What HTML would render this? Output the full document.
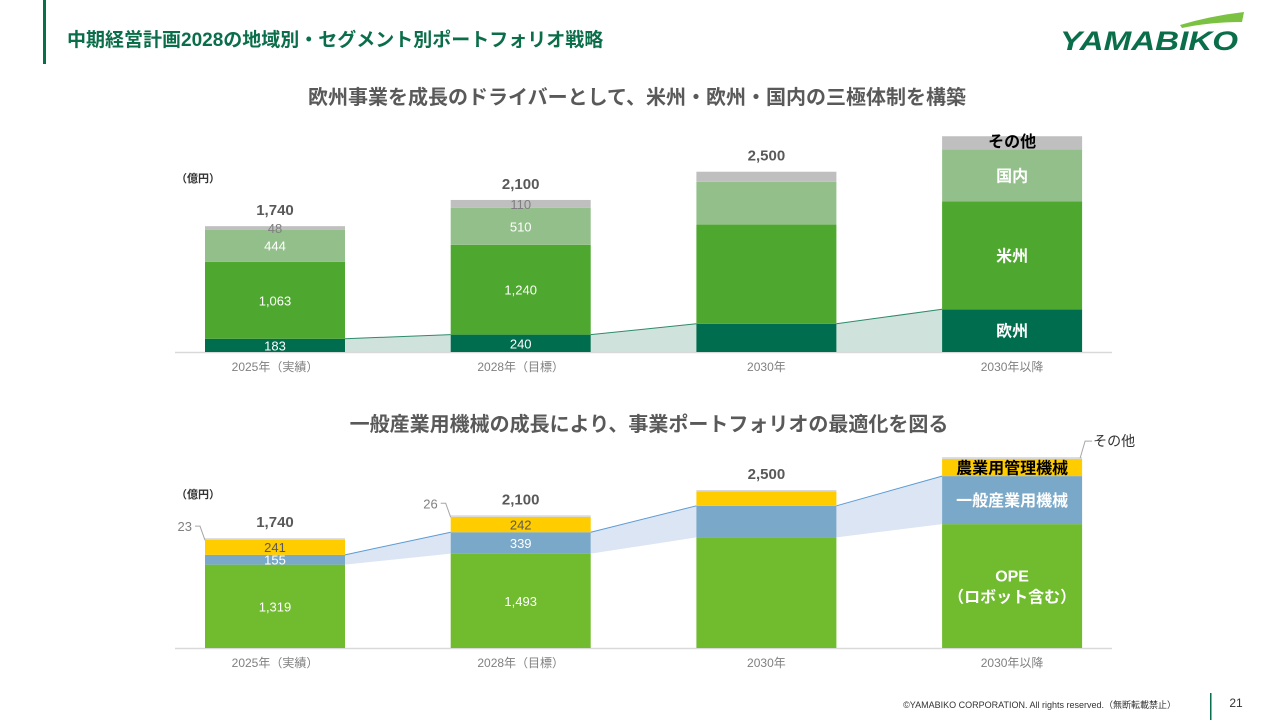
<!DOCTYPE html>
<html><head><meta charset="utf-8">
<style>
html,body{margin:0;padding:0;background:#fff;}
body{width:1280px;height:720px;overflow:hidden;position:relative;font-family:"Liberation Sans","Noto Sans CJK JP",sans-serif;}
svg text{font-family:"Liberation Sans","Noto Sans CJK JP",sans-serif;}
</style></head>
<body>
<svg id="page" width="1280" height="720" viewBox="0 0 1280 720">
  <rect x="43" y="0" width="3" height="64" fill="#0b6e4a"/>
  <text x="67" y="46" font-size="19" font-weight="bold" fill="#0b6e4a">中期経営計画2028の地域別・セグメント別ポートフォリオ戦略</text>
  <g>
    <path d="M1180 25 Q1210 16 1244 12 L1242 22 Q1210 22 1182 28 Z" fill="#7cc242"/>
    <text x="1060" y="50" font-size="27" font-weight="bold" font-style="italic" fill="#0b6e4a" textLength="178" lengthAdjust="spacingAndGlyphs">YAMABIKO</text>
  </g>
  <text x="637" y="104" text-anchor="middle" font-size="20" font-weight="bold" fill="#595959">欧州事業を成長のドライバーとして、米州・欧州・国内の三極体制を構築</text>
  <text x="649" y="431" text-anchor="middle" font-size="20" font-weight="bold" fill="#595959">一般産業用機械の成長により、事業ポートフォリオの最適化を図る</text>
  <text x="176" y="182" font-size="11" font-weight="bold" fill="#333">（億円）</text>
  <text x="176" y="498" font-size="11" font-weight="bold" fill="#333">（億円）</text>
  <g id="topChart"></g>
  <g id="botChart"></g>
  <text x="1176" y="708" text-anchor="end" font-size="9" fill="#333">©YAMABIKO CORPORATION. All rights reserved.（無断転載禁止）</text>
  <rect x="1210" y="693" width="1.5" height="27" fill="#0b6e4a"/>
  <text x="1236" y="707" text-anchor="middle" font-size="12" fill="#333">21</text>
</svg>
<script>
const categories = ["2025年（実績）","2028年（目標）","2030年","2030年以降"];
const regionEurope = [183,240,390,590];
const regionAmericas = [1063,1240,1370,1490];
const regionJapan = [444,510,590,720];
const regionOther = [48,110,140,180];
const regionTotals = ["1,740","2,100","2,500",""];
const segOPE = [1319,1493,1750,1960];
const segGeneral = [155,339,500,760];
const segAgri = [241,242,230,270];
const segOther = [23,26,20,30];
const segTotals = ["1,740","2,100","2,500",""];

const NS="http://www.w3.org/2000/svg";
function mk(parent,tag,attrs,text){const e=document.createElementNS(NS,tag);for(const k in attrs)e.setAttribute(k,attrs[k]);if(text!==undefined)e.textContent=text;parent.appendChild(e);return e;}
const barX = i => 205 + i*245.7;
const BW = 140;

function drawChart(g, base, scale, series, colors, names, labelCols, totals, bandIdx, bandFill, lineCol, showVals, lastLabels, lastLabelCols){
  const y = v => base - v*scale;
  const n = categories.length;
  const cum = [];
  for(let i=0;i<n;i++){let s=0;cum.push(series.map(a=>{s+=a[i];return s;}));}
  for(let i=0;i<n-1;i++){
    const yTop1=y(cum[i][bandIdx]), yTop2=y(cum[i+1][bandIdx]);
    const yBot1=bandIdx>0?y(cum[i][bandIdx-1]):base, yBot2=bandIdx>0?y(cum[i+1][bandIdx-1]):base;
    const x1=barX(i)+BW, x2=barX(i+1);
    const p=mk(g,'polygon',{points:`${x1},${yTop1} ${x2},${yTop2} ${x2},${yBot2} ${x1},${yBot1}`,fill:bandFill});
    
    
    const l=mk(g,'line',{x1:x1,y1:yTop1,x2:x2,y2:yTop2,stroke:lineCol,'stroke-width':1});
    
    
  }
  mk(g,'line',{x1:175,y1:base+0.5,x2:1112,y2:base+0.5,stroke:'#d9d9d9','stroke-width':1.5});
  for(let i=0;i<n;i++){
    let prev=0;
    series.forEach((a,s)=>{
      const topV=cum[i][s];
      const r=mk(g,'rect',{x:barX(i),y:y(topV),width:BW,height:(topV-prev)*scale,fill:colors[s]});
      
      
      const cy=(y(topV)+y(prev))/2;
      if(showVals[i]){
        const t=mk(g,'text',{x:barX(i)+BW/2,y:cy+5,'text-anchor':'middle','font-size':13,fill:labelCols[s]},a[i].toLocaleString('en-US'));
        
        
      }
      if(i===n-1 && lastLabels[s]){
        const lines=lastLabels[s].split('\n');
        lines.forEach((ln,k)=>{
          const t=mk(g,'text',{x:barX(i)+BW/2,y:cy+6+(k-(lines.length-1)/2)*21,'text-anchor':'middle','font-size':16,'font-weight':'bold',fill:lastLabelCols[s]},ln);
          
          
        });
      }
      prev=topV;
    });
    if(totals[i]){
      const t=mk(g,'text',{x:barX(i)+BW/2,y:y(cum[i][series.length-1])-11,'text-anchor':'middle','font-size':15,'font-weight':'bold',fill:'#595959'},totals[i]);
      
      
    }
    const c=mk(g,'text',{x:barX(i)+BW/2,y:base+19,'text-anchor':'middle','font-size':12,fill:'#808080'},categories[i]);
    
    
  }
  return {y,cum};
}

const topG=document.getElementById('topChart');
const T=drawChart(topG,352,0.0724,[regionEurope,regionAmericas,regionJapan,regionOther],
 ['#006e4e','#4ea72e','#93c08a','#bfbfbf'],['europe','americas','japan','other'],
 ['#fff','#fff','#fff','#7f7f7f'],regionTotals,0,'#cfe3dc','#2e8b6a',[true,true,false,false],
 ['欧州','米州','国内',''],['#fff','#fff','#fff','#000']);
{const i=3;const yy=T.y(T.cum[i][3]);
 const t=mk(topG,'text',{x:barX(i)+BW/2,y:yy+11,'text-anchor':'middle','font-size':16,'font-weight':'bold',fill:'#000'},'その他');
 
 }

const botG=document.getElementById('botChart');
const B=drawChart(botG,648,0.0632,[segOPE,segGeneral,segAgri,segOther],
 ['#70bb2e','#7aa8c8','#ffcc00','#d9d9d9'],['ope','general','agri','other'],
 ['#fff','#fff','#595959','#7f7f7f'],segTotals,1,'#dbe5f3','#5b9bd5',[false,false,false,false],
 ['OPE\n（ロボット含む）','一般産業用機械','農業用管理機械',''],['#fff','#fff','#000','#000']);
[0,1].forEach(i=>{
  [[segOPE,0,'#fff'],[segGeneral,1,'#fff'],[segAgri,2,'#595959']].forEach(([a,s,col])=>{
    const prev=s>0?B.cum[i][s-1]:0;
    const cy=(B.y(B.cum[i][s])+B.y(prev))/2;
    const t=mk(botG,'text',{x:barX(i)+BW/2,y:cy+5,'text-anchor':'middle','font-size':13,fill:col},a[i].toLocaleString('en-US'));
    
    
  });
  const yy=B.y(B.cum[i][3]);
  const x=barX(i);
  mk(botG,'polyline',{points:`${x},${yy+2} ${x-5},${yy-12} ${x-10},${yy-12}`,fill:'none',stroke:'#a6a6a6','stroke-width':1});
  const t=mk(botG,'text',{x:x-13,y:yy-7,'text-anchor':'end','font-size':13,fill:'#808080'},segOther[i]);
  
  
});
{const i=3;const yy=B.y(B.cum[i][3]);const x=barX(i)+BW-2;
 mk(botG,'polyline',{points:`${x},${yy+1} ${x+5},${yy-16} ${x+12},${yy-16}`,fill:'none',stroke:'#a6a6a6','stroke-width':1});
 const t=mk(botG,'text',{x:x+13,y:yy-11,'font-size':14,fill:'#333'},'その他');
 
 }
</script>
</body></html>
